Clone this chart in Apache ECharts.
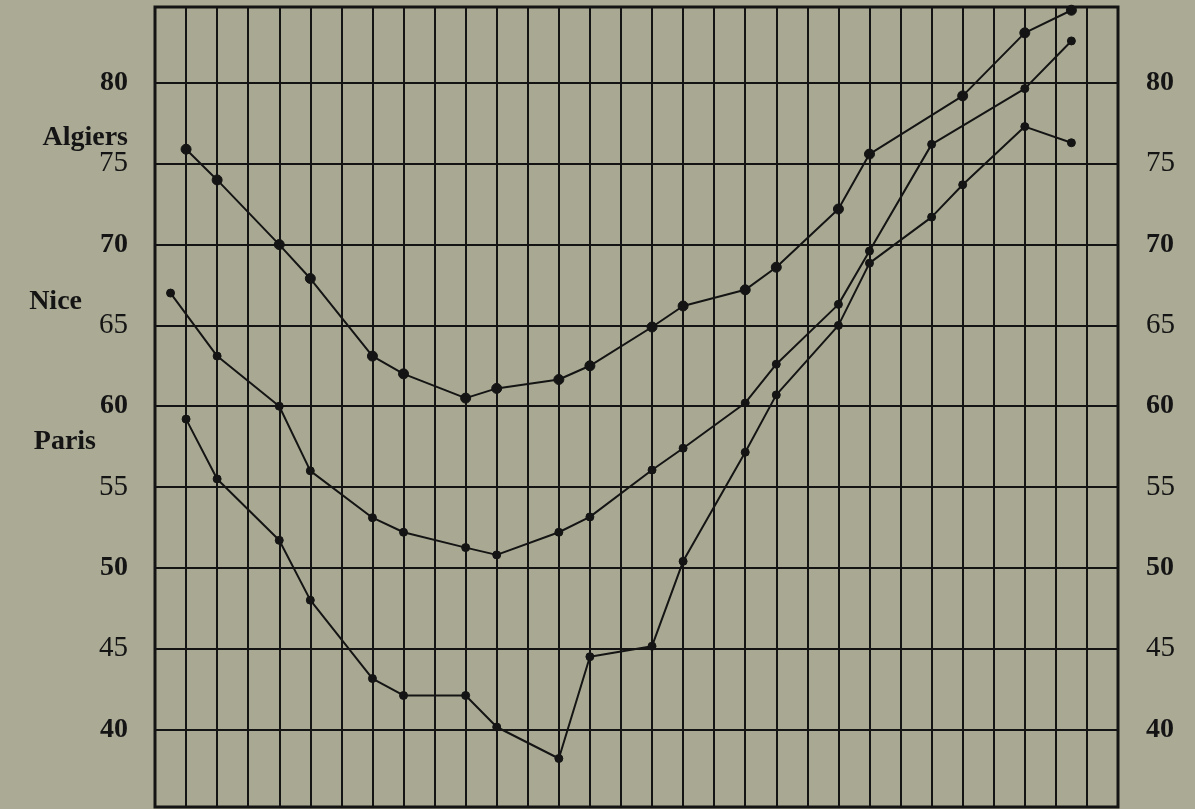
<!DOCTYPE html>
<html>
<head>
<meta charset="utf-8">
<script src="https://cdn.jsdelivr.net/npm/echarts@6/dist/echarts.min.js"></script>
<style>
  html, body { margin: 0; padding: 0; background: #abaa95; }
  #chart { width: 1195px; height: 809px; }
</style>
</head>
<body>
<div id="chart"></div>
<script>
// temperatures, x = column of the ruled grid
const algiersX = [1, 2, 4, 5, 7, 8, 10, 11, 13, 14, 16, 17, 19, 20, 22, 23, 26, 28, 29.5];
const algiersY = [75.9, 74.0, 70.0, 67.9, 63.1, 62.0, 60.5, 61.1, 61.65, 62.5, 64.9, 66.2, 67.2, 68.6, 72.2, 75.6, 79.2, 83.1, 84.5];

const niceX = [0.5, 2, 4, 5, 7, 8, 10, 11, 13, 14, 16, 17, 19, 20, 22, 23, 25, 28, 29.5];
const niceY = [67.0, 63.1, 60.0, 56.0, 53.1, 52.2, 51.25, 50.8, 52.2, 53.15, 56.05, 57.4, 60.2, 62.6, 66.3, 69.6, 76.2, 79.65, 82.6];

const parisX = [1, 2, 4, 5, 7, 8, 10, 11, 13, 14, 16, 17, 19, 20, 22, 23, 25, 26, 28, 29.5];
const parisY = [59.2, 55.5, 51.7, 48.0, 43.15, 42.1, 42.1, 40.15, 38.2, 44.5, 45.15, 50.4, 57.15, 60.7, 65.0, 68.85, 71.7, 73.7, 77.3, 76.3];

const cityNames = ['Algiers', 'Nice', 'Paris'];
const boldTicks = [40, 50, 60, 70, 80];

const ink = '#141414';
const serif = '"Liberation Serif", "DejaVu Serif", serif';

function pairs(xs, ys) {
  return xs.map((x, i) => [x, ys[i]]);
}

function tickLabel(v) {
  if (v % 5 !== 0) return '';
  return boldTicks.indexOf(v) >= 0 ? '{b|' + v + '}' : '{r|' + v + '}';
}

const labelRich = {
  b: { fontFamily: serif, fontWeight: 'bold', fontSize: 28, color: ink },
  r: { fontFamily: serif, fontWeight: 'normal', fontSize: 29, color: ink }
};

const chartDom = document.getElementById('chart');
const myChart = echarts.init(chartDom);

function lineSeries(name, data, size) {
  return {
    name: name,
    type: 'line',
    data: data,
    symbol: 'circle',
    symbolSize: size,
    lineStyle: { color: ink, width: 2 },
    itemStyle: { color: ink, borderColor: ink },
    animation: false
  };
}

let option = {
  backgroundColor: '#abaa95',
  grid: {
    left: 155,
    right: 77,
    top: 7,
    bottom: 2,
    show: true,
    borderColor: ink,
    borderWidth: 3,
    backgroundColor: '#a9a993'
  },
  xAxis: {
    type: 'value',
    min: 0,
    max: 31,
    interval: 1,
    axisLine: { show: false },
    axisTick: { show: false },
    axisLabel: { show: false },
    splitLine: { show: true, lineStyle: { color: ink, width: 2 } }
  },
  yAxis: [
    {
      type: 'value',
      min: 35.2,
      max: 84.7,
      splitNumber: 10,
      axisLine: { show: false },
      axisTick: { show: false },
      axisLabel: { margin: 27, formatter: tickLabel, rich: labelRich },
      splitLine: { show: true, lineStyle: { color: ink, width: 2 } }
    },
    {
      type: 'value',
      position: 'right',
      min: 35.2,
      max: 84.7,
      splitNumber: 10,
      axisLine: { show: false },
      axisTick: { show: false },
      axisLabel: { margin: 28, formatter: tickLabel, rich: labelRich },
      splitLine: { show: false }
    }
  ],
  graphic: [
    { type: 'text', x: 128, y: 138, style: { text: cityNames[0], font: 'bold 28px ' + serif, fill: ink, align: 'right', verticalAlign: 'middle', textAlign: 'right', textVerticalAlign: 'middle' } },
    { type: 'text', x: 82, y: 302, style: { text: cityNames[1], font: 'bold 28px ' + serif, fill: ink, align: 'right', verticalAlign: 'middle', textAlign: 'right', textVerticalAlign: 'middle' } },
    { type: 'text', x: 96, y: 442, style: { text: cityNames[2], font: 'bold 28px ' + serif, fill: ink, align: 'right', verticalAlign: 'middle', textAlign: 'right', textVerticalAlign: 'middle' } }
  ],
  series: [
    lineSeries(cityNames[0], pairs(algiersX, algiersY), 10),
    lineSeries(cityNames[1], pairs(niceX, niceY), 8),
    lineSeries(cityNames[2], pairs(parisX, parisY), 8)
  ]
};

option && myChart.setOption(option);
</script>
</body>
</html>
